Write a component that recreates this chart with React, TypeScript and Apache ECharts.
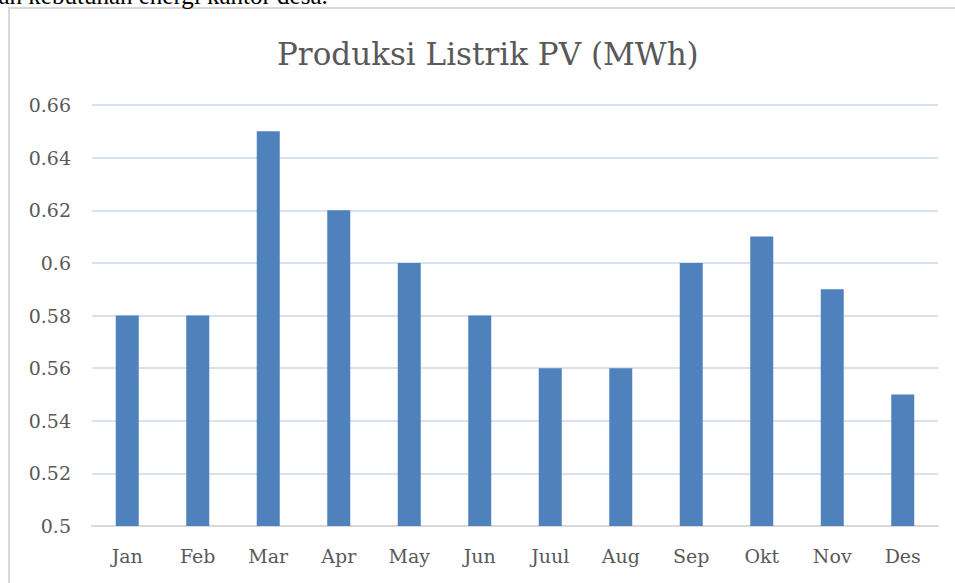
import React, { useEffect, useRef } from "react";
import * as echarts from "echarts";

const months = ["Jan", "Feb", "Mar", "Apr", "May", "Jun", "Juul", "Aug", "Sep", "Okt", "Nov", "Des"];
const production = [0.58, 0.58, 0.65, 0.62, 0.6, 0.58, 0.56, 0.56, 0.6, 0.61, 0.59, 0.55];
const titleText = "Produksi Listrik PV (MWh)";
const captionText = "dan kebutuhan energi kantor desa.";

export default function App() {
  const ref = useRef<HTMLDivElement>(null);
  useEffect(() => {
    if (!ref.current) return;
    const chart = echarts.init(ref.current, null, { renderer: "svg" });
    chart.setOption({
      animation: false,
      backgroundColor: "#ffffff",
      title: {
        text: titleText,
        left: 272,
        top: 33,
        textStyle: {
          fontFamily: "DejaVu Serif",
          fontSize: 31,
          fontWeight: "normal",
          color: "#595959",
        },
      },
      graphic: [
        {
          type: "rect",
          shape: { x: 9, y: 8, width: 1000, height: 600 },
          style: { fill: "none", stroke: "#d9d9d9", lineWidth: 2 },
          z: -1,
        },
        {
          type: "text",
          x: -14,
          y: 8,
          style: {
            text: captionText,
            fontFamily: "Liberation Serif",
            fontSize: 25,
            fill: "#000000",
            verticalAlign: "bottom",
          },
        },
      ],
      grid: { left: 92, right: 17, top: 105, bottom: 57, containLabel: false },
      xAxis: {
        type: "category",
        data: months,
        axisLine: { lineStyle: { color: "#d9d9d9", width: 2 } },
        axisTick: { show: false },
        axisLabel: {
          fontFamily: "DejaVu Serif",
          fontSize: 19,
          color: "#595959",
          margin: 20,
        },
      },
      yAxis: {
        type: "value",
        min: 0.5,
        max: 0.66,
        interval: 0.02,
        axisLine: { show: false },
        axisTick: { show: false },
        splitLine: { lineStyle: { color: "#d6e2f2", width: 2 } },
        axisLabel: {
          fontFamily: "DejaVu Serif",
          fontSize: 19,
          color: "#595959",
          margin: 21,
          formatter: (v: number) => String(parseFloat(v.toFixed(2))),
        },
      },
      series: [
        {
          type: "bar",
          data: production,
          barWidth: 23,
          itemStyle: { color: "#4f81bd" },
        },
      ],
    });
    return () => chart.dispose();
  }, []);
  return (
    <div
      ref={ref}
      style={{ position: "fixed", left: 0, top: 0, width: 955, height: 583 }}
    />
  );
}
